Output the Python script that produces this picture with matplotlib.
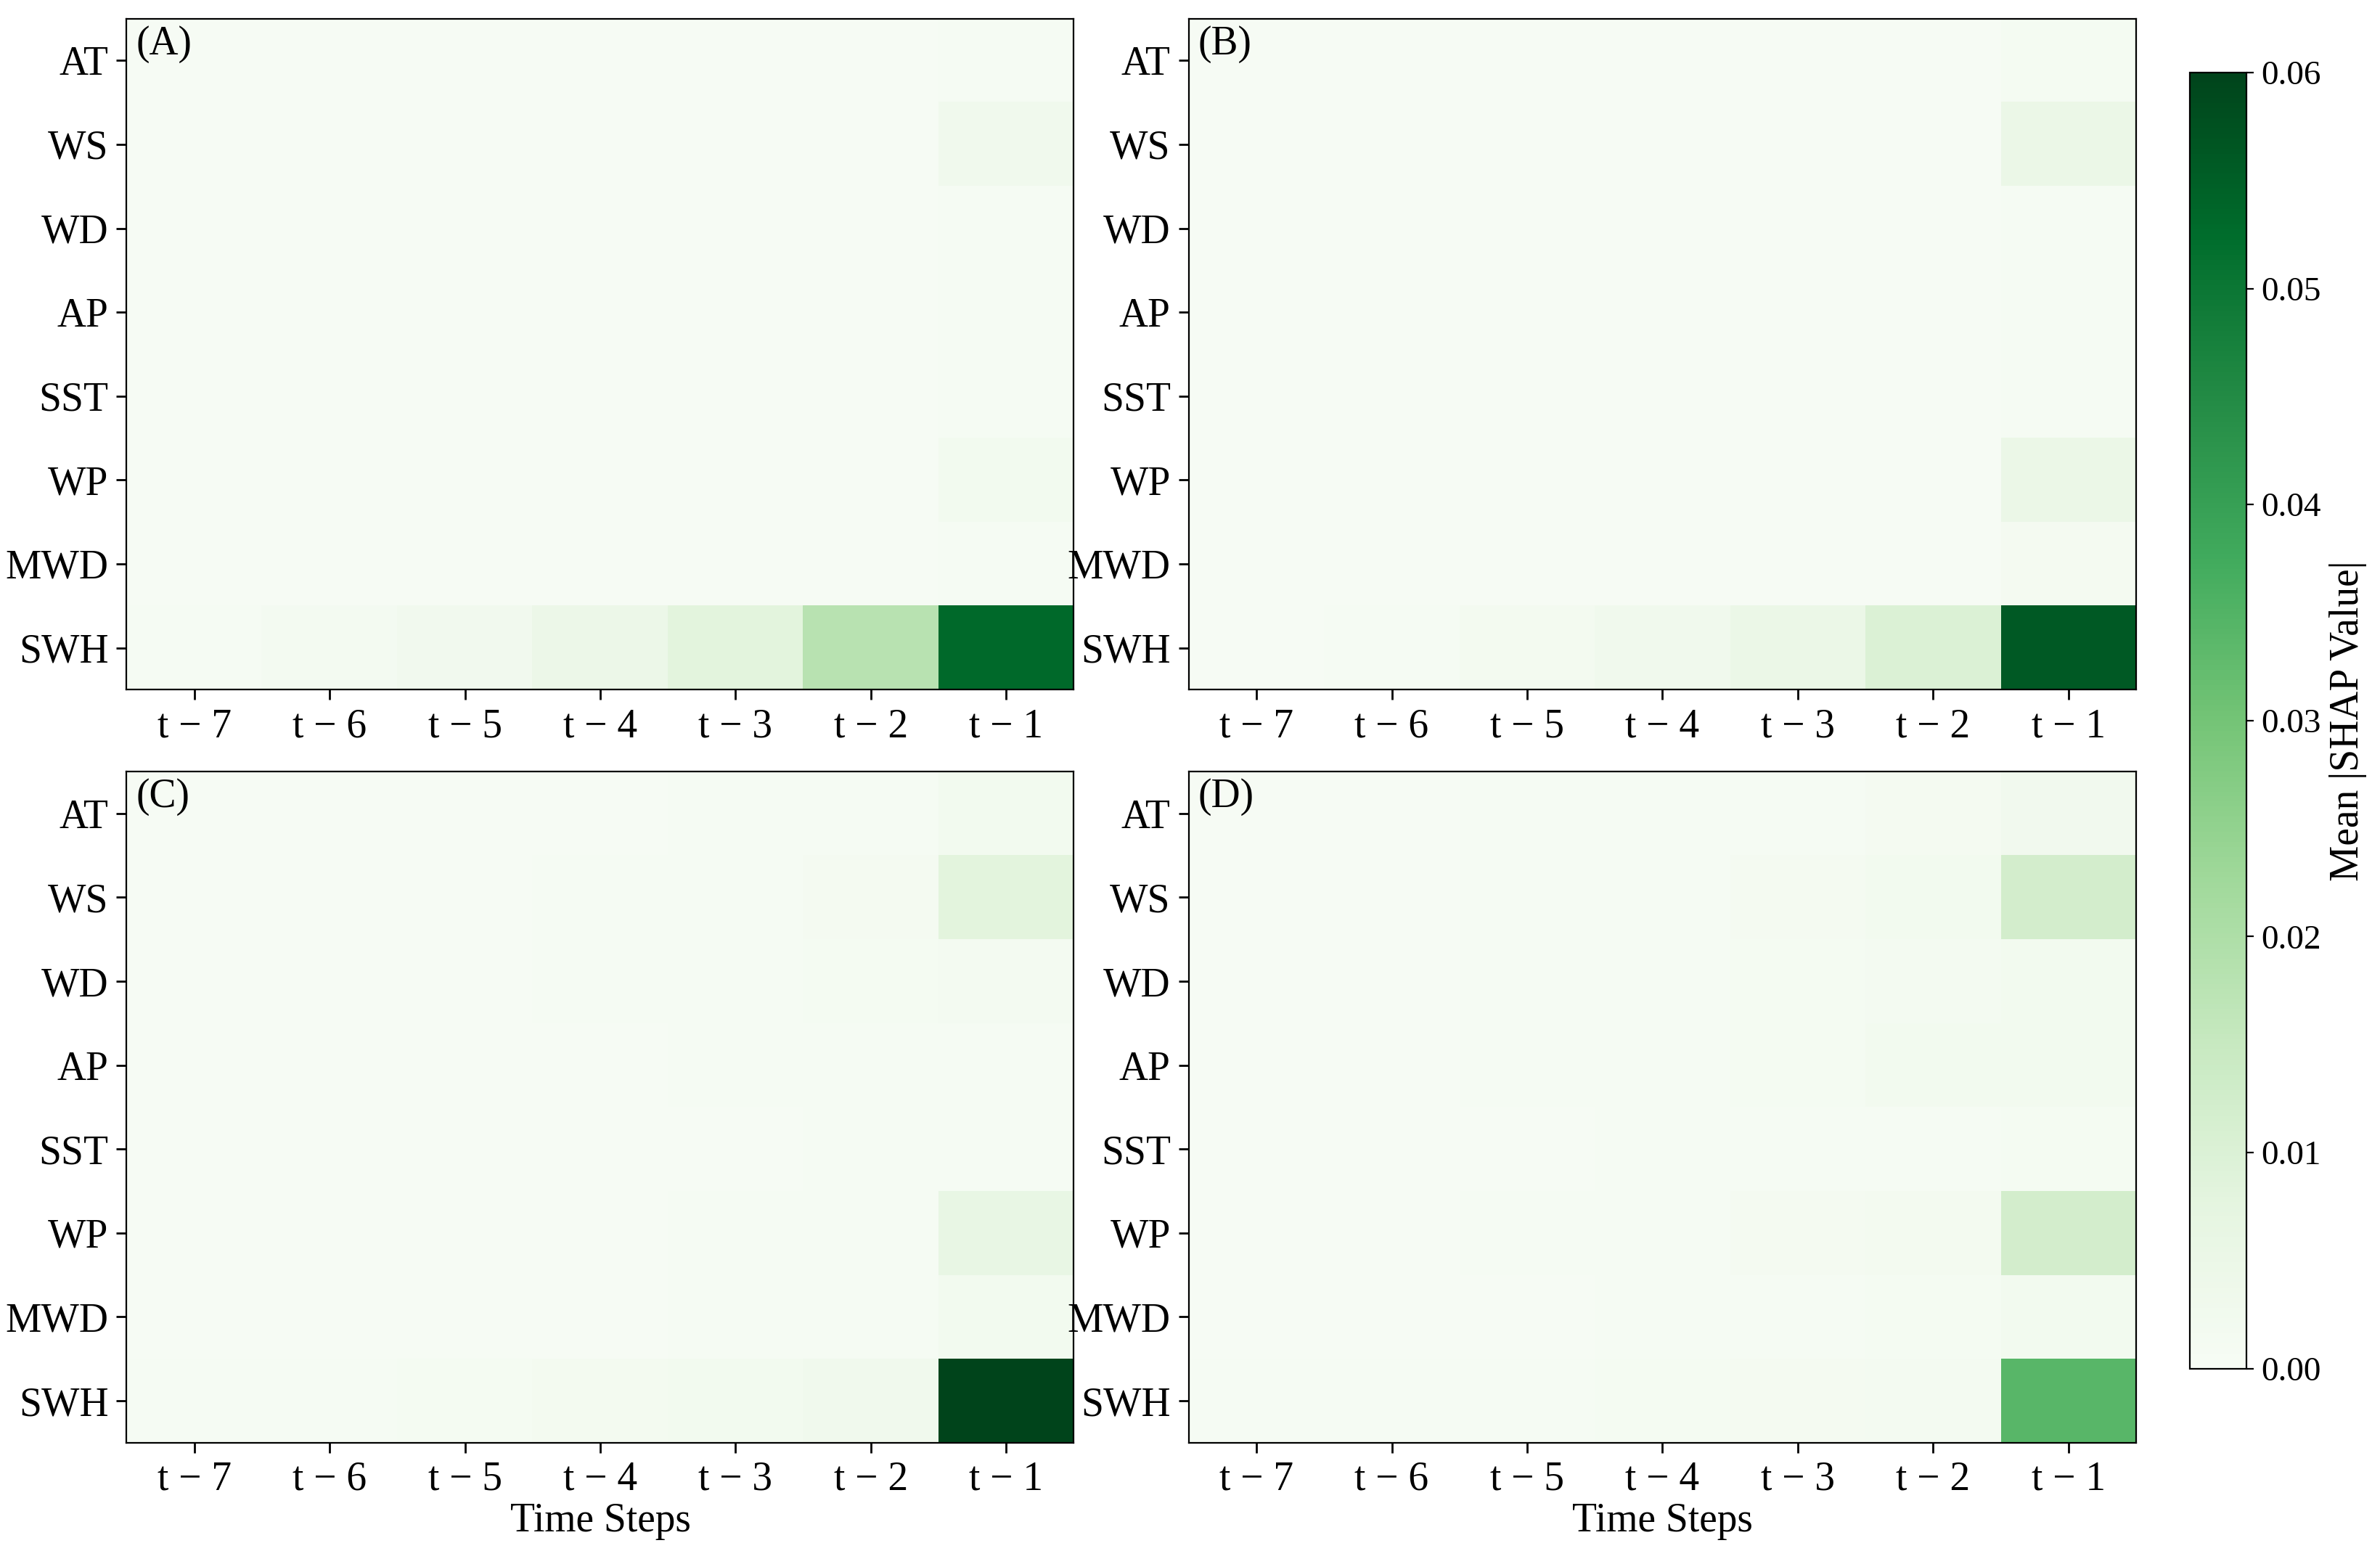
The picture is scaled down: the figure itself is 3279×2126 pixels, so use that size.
import numpy as np
import matplotlib
matplotlib.use("Agg")
import matplotlib.pyplot as plt

plt.rcParams['font.family'] = ['Liberation Serif', 'DejaVu Serif']
plt.rcParams['font.size'] = 20

features = ["AT", "WS", "WD", "AP", "SST", "WP", "MWD", "SWH"]
steps = ["t \u2212 7", "t \u2212 6", "t \u2212 5", "t \u2212 4", "t \u2212 3", "t \u2212 2", "t \u2212 1"]
panel_labels = ["(A)", "(B)", "(C)", "(D)"]

A = [[0.0003]*6 + [0.0008],
     [0.0003]*6 + [0.0030],
     [0.0003]*6 + [0.0006],
     [0.0003]*6 + [0.0005],
     [0.0003]*6 + [0.0005],
     [0.0003]*6 + [0.0020],
     [0.0003]*6 + [0.0008],
     [0.0008, 0.0015, 0.0025, 0.0045, 0.0080, 0.0180, 0.0530]]
B = [[0.0003]*6 + [0.0010],
     [0.0003]*6 + [0.0050],
     [0.0003]*6 + [0.0008],
     [0.0003]*6 + [0.0008],
     [0.0003]*6 + [0.0006],
     [0.0003]*6 + [0.0050],
     [0.0003]*6 + [0.0012],
     [0.0004, 0.0008, 0.0018, 0.0030, 0.0050, 0.0100, 0.0560]]
C = [[0.0003, 0.0003, 0.0003, 0.0003, 0.0005, 0.0008, 0.0020],
     [0.0003, 0.0003, 0.0003, 0.0005, 0.0008, 0.0012, 0.0080],
     [0.0003, 0.0003, 0.0003, 0.0005, 0.0008, 0.0010, 0.0015],
     [0.0003, 0.0003, 0.0003, 0.0004, 0.0005, 0.0006, 0.0008],
     [0.0003, 0.0003, 0.0003, 0.0003, 0.0004, 0.0005, 0.0006],
     [0.0003, 0.0003, 0.0003, 0.0004, 0.0006, 0.0008, 0.0060],
     [0.0003, 0.0003, 0.0003, 0.0004, 0.0005, 0.0008, 0.0020],
     [0.0008, 0.0008, 0.0010, 0.0018, 0.0020, 0.0030, 0.0600]]
D = [[0.0003, 0.0004, 0.0005, 0.0006, 0.0008, 0.0012, 0.0025],
     [0.0003, 0.0004, 0.0006, 0.0008, 0.0012, 0.0020, 0.0120],
     [0.0003, 0.0004, 0.0008, 0.0008, 0.0010, 0.0015, 0.0020],
     [0.0003, 0.0004, 0.0005, 0.0008, 0.0010, 0.0020, 0.0020],
     [0.0003, 0.0003, 0.0004, 0.0005, 0.0006, 0.0008, 0.0010],
     [0.0003, 0.0004, 0.0005, 0.0008, 0.0012, 0.0018, 0.0120],
     [0.0003, 0.0003, 0.0004, 0.0006, 0.0008, 0.0010, 0.0020],
     [0.0005, 0.0006, 0.0008, 0.0010, 0.0012, 0.0015, 0.0340]]
panels = [A, B, C, D]

fig = plt.figure(figsize=(16.395, 10.63), dpi=200)
w, h = 0.398, 0.435
positions = [(0.0532, 0.553), (0.4995, 0.553), (0.0532, 0.065), (0.4995, 0.065)]
im = None
for i, (data, pos) in enumerate(zip(panels, positions)):
    ax = fig.add_axes([pos[0], pos[1], w, h])
    im = ax.imshow(np.array(data), cmap="Greens", vmin=0, vmax=0.06, aspect="auto")
    ax.set_xticks(range(len(steps)))
    ax.set_xticklabels(steps)
    ax.set_yticks(range(len(features)))
    ax.set_yticklabels(features)
    ax.tick_params(length=5, width=1, pad=4)
    ax.text(0.01, 0.99, panel_labels[i], transform=ax.transAxes, ha="left", va="top", fontsize=20)
    if i >= 2:
        ax.set_xlabel("Time Steps", fontsize=20, labelpad=2)

cax = fig.add_axes([0.920, 0.113, 0.024, 0.840])
cb = fig.colorbar(im, cax=cax)
cb.set_ticks([0, 0.01, 0.02, 0.03, 0.04, 0.05, 0.06])
cb.set_ticklabels(["0.00", "0.01", "0.02", "0.03", "0.04", "0.05", "0.06"])
cb.ax.tick_params(labelsize=17)
cb.set_label("Mean |SHAP Value|", fontsize=20)
fig.savefig("out.png", dpi=200)
